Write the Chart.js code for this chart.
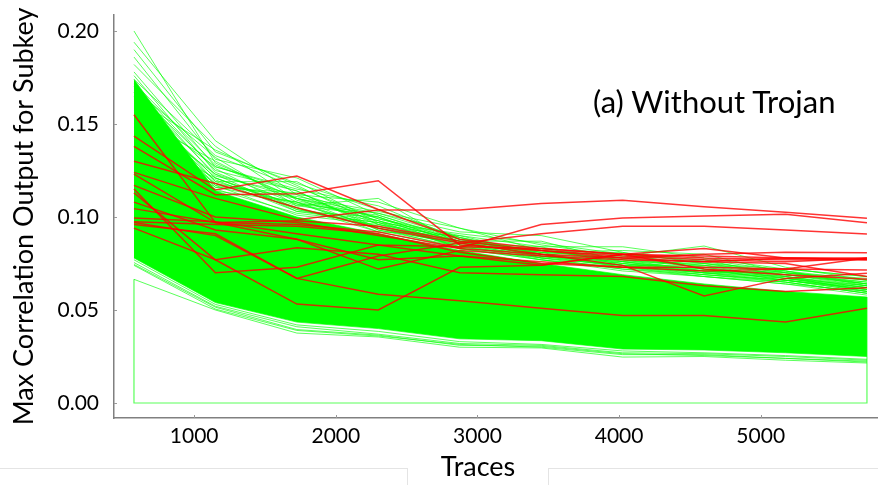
<!DOCTYPE html>
<html>
<head>
<meta charset="utf-8">
<script src="https://cdn.jsdelivr.net/npm/chart.js@4"></script>
<style>
  html, body { margin: 0; padding: 0; background: #fff; overflow: hidden; }
  #wrap { position: relative; width: 878px; height: 485px; }
  #chart { position: absolute; left: 0; top: 0; }
  .txt { position: absolute; font-family: Lato, "Open Sans", sans-serif; color: #000; white-space: nowrap; }
  #note { left: 593px; top: 83px; font-size: 31px; line-height: 36px; }
  #xtitle { left: 478px; top: 450px; font-size: 27px; line-height: 32px; transform: translateX(-50%); }
  .rule { position: absolute; background: #e4e4e4; }
</style>
</head>
<body>
<div id="wrap">
  <canvas id="chart" width="878" height="485"></canvas>
  <div class="txt" id="note">(a) Without Trojan</div>
  <div class="txt" id="xtitle">Traces</div>
  <div class="rule" style="left:0;top:468px;width:407px;height:1px"></div>
  <div class="rule" style="left:548px;top:468px;width:330px;height:1px"></div>
  <div class="rule" style="left:407px;top:468px;width:1px;height:17px"></div>
  <div class="rule" style="left:548px;top:468px;width:1px;height:17px"></div>
</div>
<script>
  // x positions (number of traces)
  const traces = [575, 1150, 1725, 2300, 2875, 3450, 4025, 4600, 5175, 5750];

  const xTicks = [1000, 2000, 3000, 4000, 5000];
  const yTicks = [0, 0.05, 0.1, 0.15, 0.2];

  // dense green band (wrong subkey guesses) - upper / lower edge
  const bandTop = [0.174, 0.114, 0.100, 0.091, 0.082, 0.075, 0.069, 0.064, 0.060, 0.057];
  const bandBottom = [0.078, 0.054, 0.0435, 0.040, 0.0345, 0.0335, 0.029, 0.0285, 0.027, 0.025];

  // green curves sticking out above the band
  const greenHigh = [
    [0.200, 0.129, 0.110, 0.100, 0.086, 0.080, 0.075, 0.070, 0.066, 0.060],
    [0.194, 0.141, 0.112, 0.096, 0.084, 0.078, 0.072, 0.068, 0.064, 0.058],
    [0.190, 0.135, 0.118, 0.104, 0.089, 0.080, 0.074, 0.069, 0.066, 0.061],
    [0.186, 0.131, 0.121, 0.101, 0.087, 0.082, 0.076, 0.071, 0.068, 0.063],
    [0.182, 0.138, 0.109, 0.098, 0.083, 0.077, 0.073, 0.070, 0.065, 0.059],
    [0.178, 0.127, 0.115, 0.106, 0.088, 0.079, 0.074, 0.070, 0.067, 0.062],
    [0.176, 0.124, 0.107, 0.102, 0.092, 0.090, 0.081, 0.075, 0.070, 0.066],
    [0.174, 0.133, 0.116, 0.099, 0.090, 0.084, 0.084, 0.078, 0.072, 0.068],
    [0.172, 0.128, 0.110, 0.098, 0.087, 0.079, 0.075, 0.072, 0.066, 0.061],
    [0.171, 0.125, 0.114, 0.094, 0.085, 0.077, 0.071, 0.068, 0.064, 0.060],
    [0.170, 0.122, 0.112, 0.108, 0.094, 0.085, 0.079, 0.0844, 0.073, 0.066],
    [0.169, 0.132, 0.106, 0.101, 0.088, 0.080, 0.073, 0.069, 0.065, 0.059],
    [0.168, 0.126, 0.104, 0.095, 0.086, 0.081, 0.080, 0.077, 0.071, 0.064],
    [0.167, 0.123, 0.110, 0.093, 0.084, 0.079, 0.076, 0.070, 0.068, 0.062],
    [0.165, 0.119, 0.119, 0.097, 0.091, 0.086, 0.080, 0.076, 0.070, 0.065],
    [0.164, 0.136, 0.117, 0.096, 0.089, 0.081, 0.078, 0.073, 0.067, 0.063],
    [0.163, 0.121, 0.104, 0.098, 0.087, 0.083, 0.075, 0.071, 0.069, 0.064],
    [0.162, 0.121, 0.106, 0.110, 0.085, 0.083, 0.078, 0.074, 0.069, 0.063],
    [0.161, 0.119, 0.107, 0.095, 0.085, 0.079, 0.073, 0.077, 0.068, 0.060],
    [0.160, 0.117, 0.111, 0.103, 0.094, 0.082, 0.077, 0.073, 0.068, 0.062],
    [0.159, 0.127, 0.114, 0.093, 0.086, 0.080, 0.081, 0.072, 0.066, 0.062],
    [0.158, 0.116, 0.113, 0.099, 0.088, 0.081, 0.082, 0.080, 0.070, 0.067],
    [0.157, 0.118, 0.110, 0.102, 0.089, 0.078, 0.074, 0.070, 0.071, 0.063],
    [0.156, 0.123, 0.103, 0.097, 0.084, 0.082, 0.077, 0.074, 0.067, 0.061],
    [0.155, 0.114, 0.108, 0.094, 0.087, 0.087, 0.076, 0.072, 0.069, 0.064],
    [0.154, 0.130, 0.108, 0.092, 0.083, 0.077, 0.072, 0.069, 0.066, 0.060],
    [0.152, 0.120, 0.103, 0.100, 0.083, 0.078, 0.079, 0.075, 0.072, 0.068],
    [0.150, 0.118, 0.105, 0.092, 0.090, 0.080, 0.077, 0.071, 0.067, 0.061],
    [0.148, 0.115, 0.102, 0.097, 0.086, 0.084, 0.074, 0.074, 0.071, 0.066],
    [0.146, 0.117, 0.101, 0.096, 0.087, 0.079, 0.076, 0.075, 0.069, 0.065],
    [0.144, 0.121, 0.105, 0.094, 0.083, 0.081, 0.073, 0.068, 0.065, 0.059],
    [0.142, 0.116, 0.108, 0.100, 0.086, 0.078, 0.074, 0.071, 0.070, 0.064]
  ];

  // green curves just under the band
  const greenLow = [
    [0.0665, 0.050, 0.0376, 0.0355, 0.030, 0.0296, 0.0247, 0.025, 0.023, 0.0215],
    [0.074, 0.0505, 0.039, 0.036, 0.0315, 0.030, 0.026, 0.026, 0.024, 0.022],
    [0.0755, 0.052, 0.041, 0.037, 0.032, 0.031, 0.027, 0.0265, 0.025, 0.023],
    [0.077, 0.053, 0.042, 0.0385, 0.033, 0.0315, 0.028, 0.027, 0.0255, 0.0235],
    [0.0745, 0.0515, 0.0395, 0.0365, 0.031, 0.0305, 0.0265, 0.0255, 0.024, 0.0225]
  ];

  // outline around the plot (first/last trace at zero)
  const frameX = [575, 575, 5750, 5750];
  const frameY = [0.0665, 0, 0, 0.057];

  // correct subkeys
  const redCurves = [
    [0.124, 0.110, 0.0985, 0.1037, 0.1037, 0.1073, 0.109, 0.1055, 0.1025, 0.0993],
    [0.1435, 0.1145, 0.122, 0.104, 0.088, 0.083, 0.080, 0.079, 0.078, 0.077],
    [0.138, 0.112, 0.1125, 0.1195, 0.085, 0.082, 0.079, 0.077, 0.076, 0.0778],
    [0.155, 0.097, 0.096, 0.092, 0.0835, 0.096, 0.0995, 0.1005, 0.1015, 0.0969],
    [0.130, 0.118, 0.105, 0.094, 0.086, 0.091, 0.095, 0.095, 0.093, 0.0909],
    [0.117, 0.100, 0.097, 0.090, 0.083, 0.080, 0.078, 0.080, 0.081, 0.0808],
    [0.1045, 0.097, 0.098, 0.095, 0.087, 0.082, 0.078, 0.076, 0.078, 0.0773],
    [0.0995, 0.0975, 0.091, 0.085, 0.084, 0.083, 0.080, 0.078, 0.077, 0.077],
    [0.0975, 0.096, 0.095, 0.091, 0.081, 0.075, 0.073, 0.071, 0.072, 0.0715],
    [0.097, 0.090, 0.067, 0.079, 0.086, 0.080, 0.074, 0.0575, 0.067, 0.0697],
    [0.123, 0.097, 0.088, 0.072, 0.082, 0.079, 0.077, 0.076, 0.075, 0.068],
    [0.115, 0.070, 0.073, 0.085, 0.079, 0.074, 0.080, 0.072, 0.069, 0.0665],
    [0.113, 0.077, 0.0532, 0.050, 0.073, 0.074, 0.080, 0.083, 0.078, 0.078],
    [0.096, 0.091, 0.067, 0.0585, 0.055, 0.051, 0.047, 0.047, 0.0436, 0.051],
    [0.094, 0.077, 0.0835, 0.080, 0.070, 0.069, 0.068, 0.063, 0.060, 0.062],
    [0.108, 0.093, 0.088, 0.077, 0.079, 0.076, 0.073, 0.073, 0.072, 0.078]
  ];

  const GREEN_LINE = "rgba(0, 255, 0, 0.65)";
  const RED_LINE = "rgba(255, 0, 0, 0.8)";
  const FONT = "Lato, 'Open Sans', sans-serif";

  function toPoints(values) {
    return values.map((v, i) => ({ x: traces[i], y: v }));
  }

  function curve(values, color, width, order) {
    return {
      data: toPoints(values),
      borderColor: color,
      borderWidth: width,
      pointRadius: 0,
      fill: false,
      order: order,
    };
  }

  const datasets = [];

  // band: top edge filled down to bottom edge
  datasets.push({
    data: toPoints(bandTop),
    borderColor: GREEN_LINE,
    borderWidth: 1,
    backgroundColor: "#00ff00",
    pointRadius: 0,
    fill: "+1",
    order: 3,
  });
  datasets.push(curve(bandBottom, GREEN_LINE, 1, 3));

  greenHigh.forEach((vals) => datasets.push(curve(vals, GREEN_LINE, 1, 2)));
  greenLow.forEach((vals) => datasets.push(curve(vals, GREEN_LINE, 1, 2)));

  datasets.push({
    data: frameX.map((x, i) => ({ x: x, y: frameY[i] })),
    borderColor: GREEN_LINE,
    borderWidth: 1.2,
    pointRadius: 0,
    fill: false,
    order: 2,
  });

  redCurves.forEach((vals) => datasets.push(curve(vals, RED_LINE, 1.5, 1)));

  // short tick marks on the inner side of both axes
  const innerTicks = {
    id: "innerTicks",
    afterDraw(chart) {
      const { ctx, chartArea, scales } = chart;
      ctx.save();
      ctx.strokeStyle = "#9a9a9a";
      ctx.lineWidth = 1;
      ctx.beginPath();
      xTicks.forEach((v) => {
        const px = Math.round(scales.x.getPixelForValue(v)) + 0.5;
        ctx.moveTo(px, chartArea.bottom);
        ctx.lineTo(px, chartArea.bottom - 3);
      });
      yTicks.forEach((v) => {
        const py = Math.round(scales.y.getPixelForValue(v)) + 0.5;
        ctx.moveTo(chartArea.left, py);
        ctx.lineTo(chartArea.left + 3, py);
      });
      ctx.stroke();
      ctx.restore();
    },
  };

  new Chart(document.getElementById("chart"), {
    type: "line",
    data: { datasets },
    plugins: [innerTicks],
    options: {
      responsive: false,
      animation: false,
      events: [],
      layout: { padding: { top: 15, left: 0, right: 0, bottom: 0 } },
      plugins: {
        legend: { display: false },
        tooltip: { enabled: false },
      },
      elements: { line: { tension: 0 } },
      scales: {
        x: {
          type: "linear",
          min: 434,
          max: 5828,
          afterBuildTicks: (scale) => {
            scale.ticks = xTicks.map((v) => ({ value: v }));
          },
          afterFit: (scale) => {
            scale.height = 67;
            scale.paddingLeft = 0;
            scale.paddingRight = 0;
          },
          grid: { display: true, drawOnChartArea: false, drawTicks: false },
          border: { display: true, color: "#808080", width: 1.5 },
          ticks: {
            padding: 6,
            color: "#000",
            font: { family: FONT, size: 21 },
            maxRotation: 0,
            callback: (v) => String(v),
          },
        },
        y: {
          min: -0.00806,
          max: 0.2086,
          afterBuildTicks: (scale) => {
            scale.ticks = yTicks.map((v) => ({ value: v }));
          },
          afterFit: (scale) => {
            scale.width = 114;
            scale.paddingTop = 0;
            scale.paddingBottom = 0;
          },
          grid: { display: true, drawOnChartArea: false, drawTicks: false },
          border: { display: true, color: "#808080", width: 1.5 },
          ticks: {
            padding: 15,
            color: "#000",
            font: { family: FONT, size: 21 },
            callback: (v) => Number(v).toFixed(2),
          },
          title: {
            display: true,
            text: "Max Correlation Output for Subkey",
            color: "#000",
            font: { family: FONT, size: 27 },
            padding: { top: 8, bottom: 0 },
          },
        },
      },
    },
  });
</script>
</body>
</html>
